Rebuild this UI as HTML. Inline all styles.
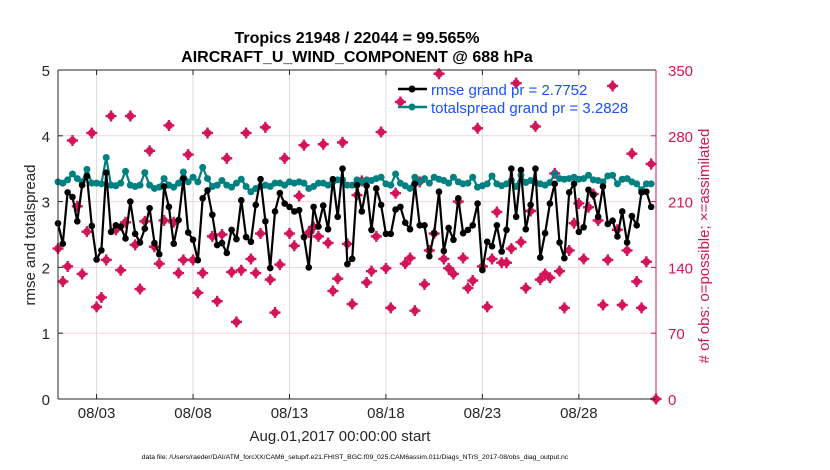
<!DOCTYPE html>
<html><head><meta charset="utf-8"><style>
body{margin:0;background:#fff;}
svg{display:block;font-family:"Liberation Sans",Arial,sans-serif;}
</style></head><body>
<svg id="chart" width="830" height="470" viewBox="0 0 830 470">
<rect x="0" y="0" width="830" height="470" fill="#fff"/>
<g id="grid"></g><g id="series"></g><g id="axes"></g>
<text x="357" y="43" text-anchor="middle" font-size="16" font-weight="bold" fill="#000">Tropics 21948 / 22044 = 99.565%</text>
<text x="357" y="62" text-anchor="middle" font-size="16" font-weight="bold" fill="#000">AIRCRAFT_U_WIND_COMPONENT @ 688 hPa</text>
<text transform="translate(35,235) rotate(-90)" text-anchor="middle" font-size="15" fill="#262626">rmse and totalspread</text>
<text transform="translate(709,246) rotate(-90)" text-anchor="middle" font-size="15" fill="#d4145a"># of obs: o=possible; ×=assimilated</text>
<text x="340" y="441" text-anchor="middle" font-size="15" fill="#262626">Aug.01,2017 00:00:00 start</text>
<text x="355" y="459" text-anchor="middle" font-size="6.8" fill="#000">data file: /Users/raeder/DAI/ATM_forcXX/CAM6_setup/f.e21.FHIST_BGC.f09_025.CAM6assim.011/Diags_NTrS_2017-08/obs_diag_output.nc</text>
<g>
<line x1="398" y1="89" x2="427" y2="89" stroke="#000" stroke-width="2.5"/>
<circle cx="412" cy="89" r="3.5" fill="#000"/>
<text x="431" y="95" font-size="15" fill="#1a4fff">rmse grand pr = 2.7752</text>
<line x1="398" y1="107" x2="427" y2="107" stroke="#008080" stroke-width="2.5"/>
<circle cx="412" cy="107" r="3.5" fill="#008080"/>
<text x="431" y="113" font-size="15" fill="#1a4fff">totalspread grand pr = 3.2828</text>
</g>
</svg>
<script>
const xTickLabels=["08/03","08/08","08/13","08/18","08/23","08/28"];
const xTickDays=[2,7,12,17,22,27];
const yTicks=[0,1,2,3,4,5];
const y2Ticks=[0,70,140,210,280,350];
const rmse=[2.67,2.36,3.14,3.07,2.70,3.25,3.39,2.63,2.12,2.26,3.44,2.54,2.64,2.62,2.44,3.00,2.51,2.38,2.59,2.90,2.37,
2.20,3.23,2.92,2.36,2.72,3.35,2.53,2.42,2.11,3.05,3.17,2.80,2.34,2.37,2.22,2.57,2.43,3.02,2.46,2.39,2.95,
3.34,2.70,1.99,2.85,3.13,2.97,2.92,2.85,2.87,2.46,2.00,2.92,2.62,2.94,2.58,3.34,2.77,3.50,2.05,2.13,
3.25,2.85,3.24,2.57,3.20,2.95,2.51,2.51,2.88,2.92,2.68,2.58,3.27,2.64,2.64,2.17,2.52,3.15,2.25,2.60,2.42,
3.05,2.52,2.57,2.64,2.97,1.96,2.39,2.32,2.64,2.24,2.57,3.50,2.77,3.48,2.58,2.95,3.50,2.15,2.52,2.97,3.27,
2.38,2.14,3.14,3.27,2.54,2.61,3.18,3.10,2.77,3.23,2.66,2.71,2.47,2.85,2.38,2.78,2.64,3.14,3.15,2.92];
const spread=[3.30,3.28,3.33,3.42,3.35,3.30,3.49,3.28,3.28,3.27,3.67,3.25,3.24,3.28,3.46,3.25,3.23,3.25,3.44,3.25,3.20,
3.22,3.35,3.25,3.22,3.28,3.45,3.30,3.37,3.30,3.52,3.35,3.23,3.25,3.32,3.25,3.22,3.28,3.34,3.23,3.15,3.20,
3.23,3.25,3.23,3.28,3.28,3.25,3.30,3.28,3.30,3.28,3.20,3.23,3.28,3.28,3.25,3.30,3.33,3.33,3.25,3.25,
3.33,3.30,3.33,3.32,3.35,3.37,3.27,3.25,3.42,3.28,3.24,3.20,3.37,3.30,3.35,3.28,3.37,3.34,3.32,3.28,3.37,
3.30,3.27,3.28,3.37,3.22,3.24,3.27,3.39,3.27,3.24,3.27,3.32,3.23,3.40,3.29,3.32,3.29,3.27,3.25,3.29,3.42,
3.35,3.34,3.35,3.37,3.34,3.35,3.40,3.33,3.32,3.30,3.39,3.40,3.27,3.34,3.35,3.30,3.27,3.18,3.27,3.27];
const obsCount=[160,125,141,275,205,133,178,283,98,108,148,301,180,137,188,301,164,117,189,264,162,
144,190,291,188,134,148,260,148,113,134,283,173,104,175,256,135,82,137,283,149,134,
176,289,127,92,143,256,176,163,216,270,177,183,173,271,166,115,128,273,165,101,
217,232,124,136,173,284,139,97,219,316,144,150,94,231,122,158,176,346,149,139,133,
210,150,118,126,288,141,98,149,199,145,145,160,336,167,118,200,290,127,133,129,240,
136,97,158,187,208,149,204,218,190,100,148,333,180,100,158,261,125,97,146,250,0];

const L=58,R=656,T=70,B=399,DAYS=31;
const ns="http://www.w3.org/2000/svg";
function xs(d){return L+d*(R-L)/DAYS;}
function ys(v){return B-v*(B-T)/5;}
function y2s(v){return B-v*(B-T)/350;}
function mk(tag,attrs,parent){const e=document.createElementNS(ns,tag);for(const k in attrs)e.setAttribute(k,attrs[k]);parent.appendChild(e);return e;}
const grid=document.getElementById('grid'),ser=document.getElementById('series'),ax=document.getElementById('axes');

xTickDays.forEach((d,i)=>{
  const g=mk('line',{x1:xs(d),x2:xs(d),y1:T,y2:B,stroke:'#dcdcdc','stroke-width':1},grid);
  
  
  const t=mk('text',{x:xs(d),y:418,'text-anchor':'middle','font-size':15,fill:'#262626'},ax);
  t.textContent=xTickLabels[i];
  
  
  mk('line',{x1:xs(d),x2:xs(d),y1:B,y2:B-5,stroke:'#262626'},ax);
  mk('line',{x1:xs(d),x2:xs(d),y1:T,y2:T+5,stroke:'#262626'},ax);
});
y2Ticks.forEach(v=>{
  if(v>0&&v<350){const g=mk('line',{x1:L,x2:R,y1:y2s(v),y2:y2s(v),stroke:'#f2d3df','stroke-width':1},grid);
  
  }
  const t=mk('text',{x:R+12,y:y2s(v)+6,'font-size':15,fill:'#d4145a'},ax);
  t.textContent=v;
  
  
  mk('line',{x1:R,x2:R-5,y1:y2s(v),y2:y2s(v),stroke:'#d4145a'},ax);
});
yTicks.forEach(v=>{
  const t=mk('text',{x:L-8,y:ys(v)+6,'text-anchor':'end','font-size':15,fill:'#262626'},ax);
  t.textContent=v;
  
  
  mk('line',{x1:L,x2:L+5,y1:ys(v),y2:ys(v),stroke:'#262626'},ax);
});
mk('line',{x1:L,x2:R,y1:T,y2:T,stroke:'#262626','stroke-width':1},ax);
mk('line',{x1:L,x2:R,y1:B,y2:B,stroke:'#262626','stroke-width':1},ax);
mk('line',{x1:L,x2:L,y1:T,y2:B,stroke:'#262626','stroke-width':1},ax);
mk('line',{x1:R,x2:R,y1:T,y2:B,stroke:'#d4145a','stroke-width':1},ax);

obsCount.forEach((v,i)=>{
  const cx=xs(i*0.25),cy=y2s(v);
  const g=mk('g',{},ser);
  
  
  mk('circle',{cx:cx,cy:cy,r:3.8,fill:'#d4145a'},g);
  mk('path',{d:`M${cx-5.5} ${cy}H${cx+5.5}M${cx} ${cy-5.5}V${cy+5.5}`,stroke:'#d4145a','stroke-width':2.4},g);
});
function drawLine(arr,color,name,r){
  const pts=arr.map((v,i)=>xs(i*0.25).toFixed(1)+','+ys(v).toFixed(1)).join(' ');
  const pl=mk('polyline',{points:pts,fill:'none',stroke:color,'stroke-width':2.2,'stroke-linejoin':'round'},ser);
  
  
  arr.forEach((v,i)=>{
    const c=mk('circle',{cx:xs(i*0.25),cy:ys(v),r:r,fill:color},ser);
    
    
  });
}
drawLine(spread,'#008080','totalspread',3.5);
drawLine(rmse,'#000','rmse',3.3);
</script>
</body></html>
